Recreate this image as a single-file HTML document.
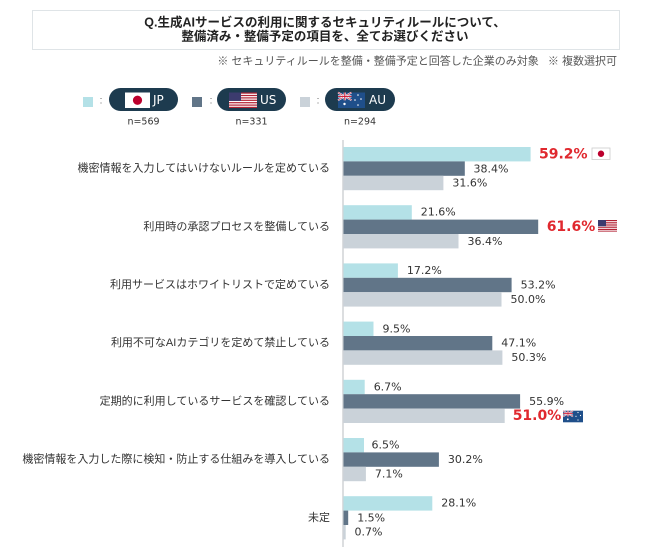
<!DOCTYPE html>
<html><head><meta charset="utf-8">
<style>
html,body{margin:0;padding:0;background:#fff;}
svg{display:block;}
.cat{font-family:"Liberation Sans","Noto Sans CJK JP",sans-serif;font-size:11px;fill:#333;}
.val{font-family:"DejaVu Sans","Liberation Sans",sans-serif;font-size:11px;fill:#333;}
.red{font-family:"DejaVu Sans","Liberation Sans",sans-serif;font-size:14px;font-weight:bold;fill:#e0282e;}
</style></head>
<body>
<svg width="650" height="557" viewBox="0 0 650 557" xmlns="http://www.w3.org/2000/svg">
<rect x="0" y="0" width="650" height="557" fill="#fff"/>
<!-- Title box -->
<rect x="32.5" y="10.5" width="587" height="39" fill="#fff" stroke="#dfe4e7" stroke-width="1"/>
<text x="325" y="22.5" text-anchor="middle" dominant-baseline="central" font-family="'Liberation Sans','Noto Sans CJK JP',sans-serif" font-size="12.5" font-weight="bold" fill="#222">Q.生成AIサービスの利用に関するセキュリティルールについて、</text>
<text x="325" y="36.5" text-anchor="middle" dominant-baseline="central" font-family="'Liberation Sans','Noto Sans CJK JP',sans-serif" font-size="12.5" font-weight="bold" fill="#222">整備済み・整備予定の項目を、全てお選びください</text>
<text x="617" y="61.5" text-anchor="end" dominant-baseline="central" font-family="'Liberation Sans','Noto Sans CJK JP',sans-serif" font-size="11" fill="#555">※&#160;セキュリティルールを整備・整備予定と回答した企業のみ対象&#160;&#160;&#160;※&#160;複数選択可</text>

<!-- Legend -->
<rect x="83" y="97" width="10" height="10" fill="#b4e1e7"/>
<text x="101" y="101" text-anchor="middle" dominant-baseline="central" font-family="'Liberation Sans',sans-serif" font-size="10" fill="#666">:</text>
<rect x="109" y="88" width="69" height="23" rx="11.5" fill="#1d3b4f"/>
<rect x="125" y="92.5" width="25" height="15.5" fill="#fff"/>
<circle cx="137.5" cy="100.25" r="4.6" fill="#bc002d"/>
<text x="153" y="100" dominant-baseline="central" font-family="'DejaVu Sans','Liberation Sans',sans-serif" font-size="12" fill="#fff">JP</text>
<text x="143.5" y="122" text-anchor="middle" dominant-baseline="central" font-family="'DejaVu Sans','Liberation Sans',sans-serif" font-size="9.5" fill="#333">n=569</text>

<rect x="192" y="97" width="10" height="10" fill="#617588"/>
<text x="211" y="101" text-anchor="middle" dominant-baseline="central" font-family="'Liberation Sans',sans-serif" font-size="10" fill="#666">:</text>
<rect x="217" y="88" width="69" height="23" rx="11.5" fill="#1d3b4f"/>
<g>
<rect x="229" y="92.5" width="28" height="15.5" fill="#fff"/>
<rect x="229" y="92.5" width="28" height="1.2" fill="#b22234"/>
<rect x="229" y="94.9" width="28" height="1.2" fill="#b22234"/>
<rect x="229" y="97.3" width="28" height="1.2" fill="#b22234"/>
<rect x="229" y="99.7" width="28" height="1.2" fill="#b22234"/>
<rect x="229" y="102.1" width="28" height="1.2" fill="#b22234"/>
<rect x="229" y="104.5" width="28" height="1.2" fill="#b22234"/>
<rect x="229" y="106.8" width="28" height="1.2" fill="#b22234"/>
<rect x="229" y="92.5" width="12" height="8.4" fill="#3c3b6e"/>
</g>
<text x="260" y="100" dominant-baseline="central" font-family="'DejaVu Sans','Liberation Sans',sans-serif" font-size="12" fill="#fff">US</text>
<text x="251.5" y="122" text-anchor="middle" dominant-baseline="central" font-family="'DejaVu Sans','Liberation Sans',sans-serif" font-size="9.5" fill="#333">n=331</text>

<rect x="300" y="97" width="10" height="10" fill="#cad2d9"/>
<text x="318" y="101" text-anchor="middle" dominant-baseline="central" font-family="'Liberation Sans',sans-serif" font-size="10" fill="#666">:</text>
<rect x="325" y="88" width="70" height="23" rx="11.5" fill="#1d3b4f"/>
<g>
<rect x="338" y="92.5" width="27" height="15.5" fill="#1f4f8a"/>
<line x1="338" y1="92.5" x2="351.5" y2="100.25" stroke="#fff" stroke-width="1.8"/>
<line x1="351.5" y1="92.5" x2="338" y2="100.25" stroke="#fff" stroke-width="1.8"/>
<line x1="338" y1="92.5" x2="351.5" y2="100.25" stroke="#c8102e" stroke-width="0.7"/>
<line x1="351.5" y1="92.5" x2="338" y2="100.25" stroke="#c8102e" stroke-width="0.7"/>
<rect x="343.7" y="92.5" width="2.2" height="7.75" fill="#fff"/>
<rect x="338" y="95.3" width="13.5" height="2.2" fill="#fff"/>
<rect x="344.3" y="92.5" width="1" height="7.75" fill="#c8102e"/>
<rect x="338" y="95.9" width="13.5" height="1" fill="#c8102e"/>
<circle cx="344.5" cy="104" r="1.2" fill="#fff"/>
<circle cx="358" cy="95" r="0.8" fill="#fff"/>
<circle cx="361" cy="99" r="0.8" fill="#fff"/>
<circle cx="355" cy="100" r="0.8" fill="#fff"/>
<circle cx="358" cy="105" r="0.8" fill="#fff"/>
</g>
<text x="369" y="100" dominant-baseline="central" font-family="'DejaVu Sans','Liberation Sans',sans-serif" font-size="12" fill="#fff">AU</text>
<text x="360" y="122" text-anchor="middle" dominant-baseline="central" font-family="'DejaVu Sans','Liberation Sans',sans-serif" font-size="9.5" fill="#333">n=294</text>

<!-- Axis -->
<line x1="343" y1="140" x2="343" y2="547" stroke="#d0d3d6" stroke-width="1.5"/>

<!-- Group 0 top=147 -->
<g>
<rect x="343.5" y="147" width="187.1" height="14.4" fill="#b4e1e7"/>
<rect x="343.5" y="161.4" width="121.3" height="14.4" fill="#617588"/>
<rect x="343.5" y="175.8" width="99.9" height="14.4" fill="#cad2d9"/>
<text class="cat" x="330" y="168.6" text-anchor="end" dominant-baseline="central">機密情報を入力してはいけないルールを定めている</text>
<text class="red" x="539" y="154.5" dominant-baseline="central">59.2%</text>
<rect x="592" y="148" width="18" height="11.5" fill="#fff" stroke="#ccc" stroke-width="0.8"/>
<circle cx="601" cy="153.75" r="3.2" fill="#bc002d"/>
<text class="val" x="473.5" y="168.8" dominant-baseline="central">38.4%</text>
<text class="val" x="452.4" y="183.2" dominant-baseline="central">31.6%</text>
</g>

<!-- Group 1 top=205.2 -->
<g>
<rect x="343.5" y="205.2" width="68.3" height="14.4" fill="#b4e1e7"/>
<rect x="343.5" y="219.6" width="194.7" height="14.4" fill="#617588"/>
<rect x="343.5" y="234" width="115" height="14.4" fill="#cad2d9"/>
<text class="cat" x="330" y="226.8" text-anchor="end" dominant-baseline="central">利用時の承認プロセスを整備している</text>
<text class="val" x="420.8" y="212.2" dominant-baseline="central">21.6%</text>
<text class="red" x="546.7" y="227" dominant-baseline="central">61.6%</text>
<g>
<rect x="598" y="220" width="19" height="11.6" fill="#fff"/>
<rect x="598" y="220" width="19" height="1" fill="#b22234"/>
<rect x="598" y="221.8" width="19" height="1" fill="#b22234"/>
<rect x="598" y="223.6" width="19" height="1" fill="#b22234"/>
<rect x="598" y="225.4" width="19" height="1" fill="#b22234"/>
<rect x="598" y="227.2" width="19" height="1" fill="#b22234"/>
<rect x="598" y="229" width="19" height="1" fill="#b22234"/>
<rect x="598" y="230.7" width="19" height="0.9" fill="#b22234"/>
<rect x="598" y="220" width="8" height="6.3" fill="#3c3b6e"/>
</g>
<text class="val" x="467.5" y="241.4" dominant-baseline="central">36.4%</text>
</g>

<!-- Group 2 top=263.4 -->
<g>
<rect x="343.5" y="263.4" width="54.4" height="14.4" fill="#b4e1e7"/>
<rect x="343.5" y="277.8" width="168.1" height="14.4" fill="#617588"/>
<rect x="343.5" y="292.2" width="158" height="14.4" fill="#cad2d9"/>
<text class="cat" x="330" y="285" text-anchor="end" dominant-baseline="central">利用サービスはホワイトリストで定めている</text>
<text class="val" x="406.9" y="270.6" dominant-baseline="central">17.2%</text>
<text class="val" x="520.6" y="285" dominant-baseline="central">53.2%</text>
<text class="val" x="510.5" y="299.4" dominant-baseline="central">50.0%</text>
</g>

<!-- Group 3 top=321.6 -->
<g>
<rect x="343.5" y="321.6" width="30" height="14.4" fill="#b4e1e7"/>
<rect x="343.5" y="336" width="148.8" height="14.4" fill="#617588"/>
<rect x="343.5" y="350.4" width="158.9" height="14.4" fill="#cad2d9"/>
<text class="cat" x="330" y="343.2" text-anchor="end" dominant-baseline="central">利用不可なAIカテゴリを定めて禁止している</text>
<text class="val" x="382.5" y="328.8" dominant-baseline="central">9.5%</text>
<text class="val" x="501.3" y="343.2" dominant-baseline="central">47.1%</text>
<text class="val" x="511.4" y="357.6" dominant-baseline="central">50.3%</text>
</g>

<!-- Group 4 top=379.8 -->
<g>
<rect x="343.5" y="379.8" width="21.2" height="14.4" fill="#b4e1e7"/>
<rect x="343.5" y="394.2" width="176.6" height="14.4" fill="#617588"/>
<rect x="343.5" y="408.6" width="161.2" height="14.4" fill="#cad2d9"/>
<text class="cat" x="330" y="401.4" text-anchor="end" dominant-baseline="central">定期的に利用しているサービスを確認している</text>
<text class="val" x="373.7" y="387" dominant-baseline="central">6.7%</text>
<text class="val" x="529.1" y="401.6" dominant-baseline="central">55.9%</text>
<text class="red" x="512.7" y="416" dominant-baseline="central">51.0%</text>
<g>
<rect x="563" y="410.7" width="20" height="11.6" fill="#1f4f8a"/>
<line x1="563" y1="410.7" x2="573" y2="416.5" stroke="#fff" stroke-width="1.4"/>
<line x1="573" y1="410.7" x2="563" y2="416.5" stroke="#fff" stroke-width="1.4"/>
<line x1="563" y1="410.7" x2="573" y2="416.5" stroke="#c8102e" stroke-width="0.5"/>
<line x1="573" y1="410.7" x2="563" y2="416.5" stroke="#c8102e" stroke-width="0.5"/>
<rect x="567.2" y="410.7" width="1.6" height="5.8" fill="#fff"/>
<rect x="563" y="412.8" width="10" height="1.6" fill="#fff"/>
<rect x="567.6" y="410.7" width="0.8" height="5.8" fill="#c8102e"/>
<rect x="563" y="413.2" width="10" height="0.8" fill="#c8102e"/>
<circle cx="567.8" cy="419.3" r="0.9" fill="#fff"/>
<circle cx="578" cy="412.5" r="0.6" fill="#fff"/>
<circle cx="580.5" cy="415.5" r="0.6" fill="#fff"/>
<circle cx="576" cy="416.3" r="0.6" fill="#fff"/>
<circle cx="578" cy="420" r="0.6" fill="#fff"/>
</g>
</g>

<!-- Group 5 top=438 -->
<g>
<rect x="343.5" y="438" width="20.5" height="14.4" fill="#b4e1e7"/>
<rect x="343.5" y="452.4" width="95.4" height="14.4" fill="#617588"/>
<rect x="343.5" y="466.8" width="22.4" height="14.4" fill="#cad2d9"/>
<text class="cat" x="330" y="459.6" text-anchor="end" dominant-baseline="central">機密情報を入力した際に検知・防止する仕組みを導入している</text>
<text class="val" x="371.5" y="445" dominant-baseline="central">6.5%</text>
<text class="val" x="447.9" y="459.6" dominant-baseline="central">30.2%</text>
<text class="val" x="374.9" y="474" dominant-baseline="central">7.1%</text>
</g>

<!-- Group 6 top=496.2 -->
<g>
<rect x="343.5" y="496.2" width="88.8" height="14.4" fill="#b4e1e7"/>
<rect x="343.5" y="510.6" width="4.7" height="14.4" fill="#617588"/>
<rect x="343.5" y="525" width="2.2" height="14.4" fill="#cad2d9"/>
<text class="cat" x="330" y="517.8" text-anchor="end" dominant-baseline="central">未定</text>
<text class="val" x="441.3" y="503.2" dominant-baseline="central">28.1%</text>
<text class="val" x="357.2" y="517.8" dominant-baseline="central">1.5%</text>
<text class="val" x="354.5" y="532.2" dominant-baseline="central">0.7%</text>
</g>
</svg>
</body></html>
